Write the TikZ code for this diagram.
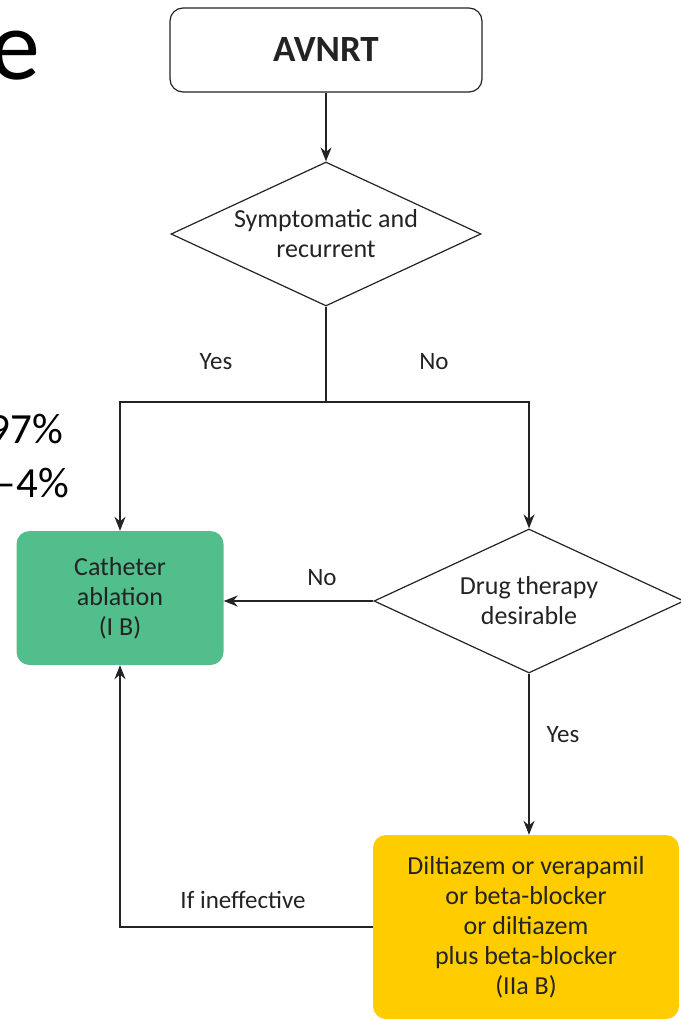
\documentclass[tikz,border=0pt]{standalone}
\usepackage{fontspec}
\setmainfont{Carlito}
\usetikzlibrary{shapes.geometric,arrows.meta}
\definecolor{ablgreen}{RGB}{82,190,140}
\definecolor{drugyellow}{RGB}{255,204,0}
\definecolor{ink}{RGB}{35,35,35}

\begin{document}
\begin{tikzpicture}[x=1pt,y=-1pt,
  every node/.style={font=\fontsize{26}{30}\selectfont, text=ink, align=center},
  conn/.style={draw=ink, line width=1.4pt},
  arr/.style={conn, -{Stealth[length=14pt,width=11pt]}},
  box/.style={rounded corners=13pt, inner sep=0pt},
  decision/.style={diamond, draw=ink, line width=1.2pt, minimum width=310pt,
                   minimum height=144pt, inner sep=0pt},
  lbl/.style={font=\fontsize{25}{30}\selectfont},
  slide/.style={text=black, inner sep=0pt, anchor=base east}]

\useasboundingbox (0,0) rectangle (680,1019);

% fragments of the slide text beside the chart
\node[slide, font=\fontsize{100}{100}\selectfont] (st1) at (40,80) {e};
\node[slide, font=\fontsize{43}{48}\selectfont] (st2) at (63,443) {97\%};
\node[slide, font=\fontsize{43}{48}\selectfont] (st3) at (69,497) {–4\%};

% start box
\node[box, draw=ink, line width=1.2pt, minimum width=312pt, minimum height=84pt,
      font=\fontsize{37}{40}\selectfont\bfseries] (avnrt) at (326,50) {AVNRT};

% decisions: fixed-size diamonds with their question set in the middle
\node[decision, label={center:Symptomatic and\\recurrent}] (d1) at (326,234) {};
\node[decision, label={center:Drug therapy\\desirable}] (d2) at (529,601) {};

% outcome boxes
\node[box, fill=ablgreen, minimum width=207pt, minimum height=134pt] (abl)
      at (120,598) {Catheter\\ablation\\(I B)};
\node[box, fill=drugyellow, minimum width=306pt, minimum height=184pt] (drug)
      at (526,927) {Diltiazem or verapamil\\or beta-blocker\\or diltiazem\\plus beta-blocker\\(IIa B)};

% connectors
\coordinate (split) at (326,402);
\draw[arr] (avnrt) -- (d1);
\draw[conn] (d1.south) -- (split);
\draw[arr] (split) -| (abl.north);
\draw[arr] (split) -| (d2.north);
\draw[arr] (d2.west) -- (d2.west -| abl.east);
\draw[arr] (d2.south) -- (d2.south |- drug.north);
\draw[arr] (drug.west) -| (abl.south);

% branch labels
\node[lbl] (y1) at (216,362) {Yes};
\node[lbl] (n1) at (434,362) {No};
\node[lbl] (n2) at (322,578) {No};
\node[lbl] (y2) at (563,735) {Yes};
\node[lbl] (ie) at (243,900) {If ineffective};
\end{tikzpicture}
\end{document}
